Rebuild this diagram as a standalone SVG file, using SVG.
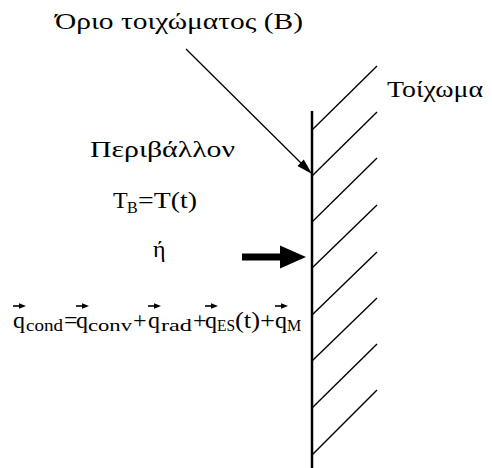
<svg xmlns="http://www.w3.org/2000/svg" width="492" height="468" viewBox="0 0 492 468">
<style>
text{font-family:"Liberation Serif","DejaVu Serif",serif;fill:#000}
.g{font-size:24px}
.t{font-size:24px}
.s{font-size:16px}
.wall{stroke:#000;stroke-width:2.5;fill:none}
.h{stroke:#000;stroke-width:1.4;fill:none}
.ln{stroke:#000;stroke-width:1.3;fill:none}
</style>
<defs>
<g id="vec"><line x1="0" y1="0" x2="8" y2="0" stroke="#000" stroke-width="1.6"/><polygon points="6,-2.8 13,0 6,2.8" fill="#000"/></g>
</defs>
<g id="wall">
<line class="wall" x1="312" y1="111" x2="312" y2="468"/>
<line class="h" x1="312" y1="130" x2="377" y2="66" stroke-width="2"/>
<line class="h" x1="312" y1="176" x2="377" y2="112"/>
<line class="h" x1="312" y1="222" x2="377" y2="158"/>
<line class="h" x1="312" y1="268" x2="377" y2="205"/>
<line class="h" x1="312" y1="315" x2="377" y2="252"/>
<line class="h" x1="312" y1="361" x2="377" y2="298" stroke-width="1.7"/>
<line class="h" x1="312" y1="408" x2="377" y2="344"/>
<line class="h" x1="312" y1="455" x2="377" y2="390"/>
</g>
<g id="connectors">
<line class="ln" x1="186" y1="49" x2="302" y2="164"/>
<polygon points="312,174 297.5,166 303.8,159.6" fill="#000"/>
<rect x="242" y="253.5" width="40" height="7" fill="#000"/>
<polygon points="280,245.5 306,257 280,268.5" fill="#000"/>
</g>
<g id="label-boundary"><text class="g" x="55" y="29" textLength="248" lengthAdjust="spacingAndGlyphs">Όριο τοιχώματος (B)</text></g>
<g id="label-wall"><text class="g" x="387" y="97" textLength="96" lengthAdjust="spacingAndGlyphs">Τοίχωμα</text></g>
<g id="label-env"><text class="g" x="90" y="157" textLength="145" lengthAdjust="spacingAndGlyphs">Περιβάλλον</text></g>
<g id="label-tb"><text class="t" x="113" y="208">T<tspan class="s" x="127" dy="5">B</tspan><tspan dy="-5" x="138" textLength="59" lengthAdjust="spacingAndGlyphs">=T(t)</tspan></text></g>
<g id="label-or"><text class="g" x="153" y="257">ή</text></g>
<g id="equation">
<text class="t" y="328">
<tspan x="13">q</tspan><tspan class="s" x="26" dy="3" textLength="37" lengthAdjust="spacingAndGlyphs">cond</tspan><tspan x="64" dy="-3">=</tspan><tspan x="76">q</tspan><tspan class="s" x="88" dy="3" textLength="44" lengthAdjust="spacingAndGlyphs">conv</tspan><tspan x="133" dy="-3">+</tspan><tspan x="148">q</tspan><tspan class="s" x="161" dy="3" textLength="31" lengthAdjust="spacingAndGlyphs">rad</tspan><tspan x="193" dy="-3">+</tspan><tspan x="205">q</tspan><tspan class="s" x="217" dy="3" textLength="18" lengthAdjust="spacingAndGlyphs">ES</tspan><tspan x="235" dy="-3" textLength="40" lengthAdjust="spacingAndGlyphs">(t)+</tspan><tspan x="275">q</tspan><tspan class="s" x="287" dy="3">M</tspan>
</text>
<use href="#vec" x="13" y="306"/>
<use href="#vec" x="76" y="306"/>
<use href="#vec" x="148" y="306"/>
<use href="#vec" x="205" y="306"/>
<use href="#vec" x="275" y="306"/>
</g>
</svg>
